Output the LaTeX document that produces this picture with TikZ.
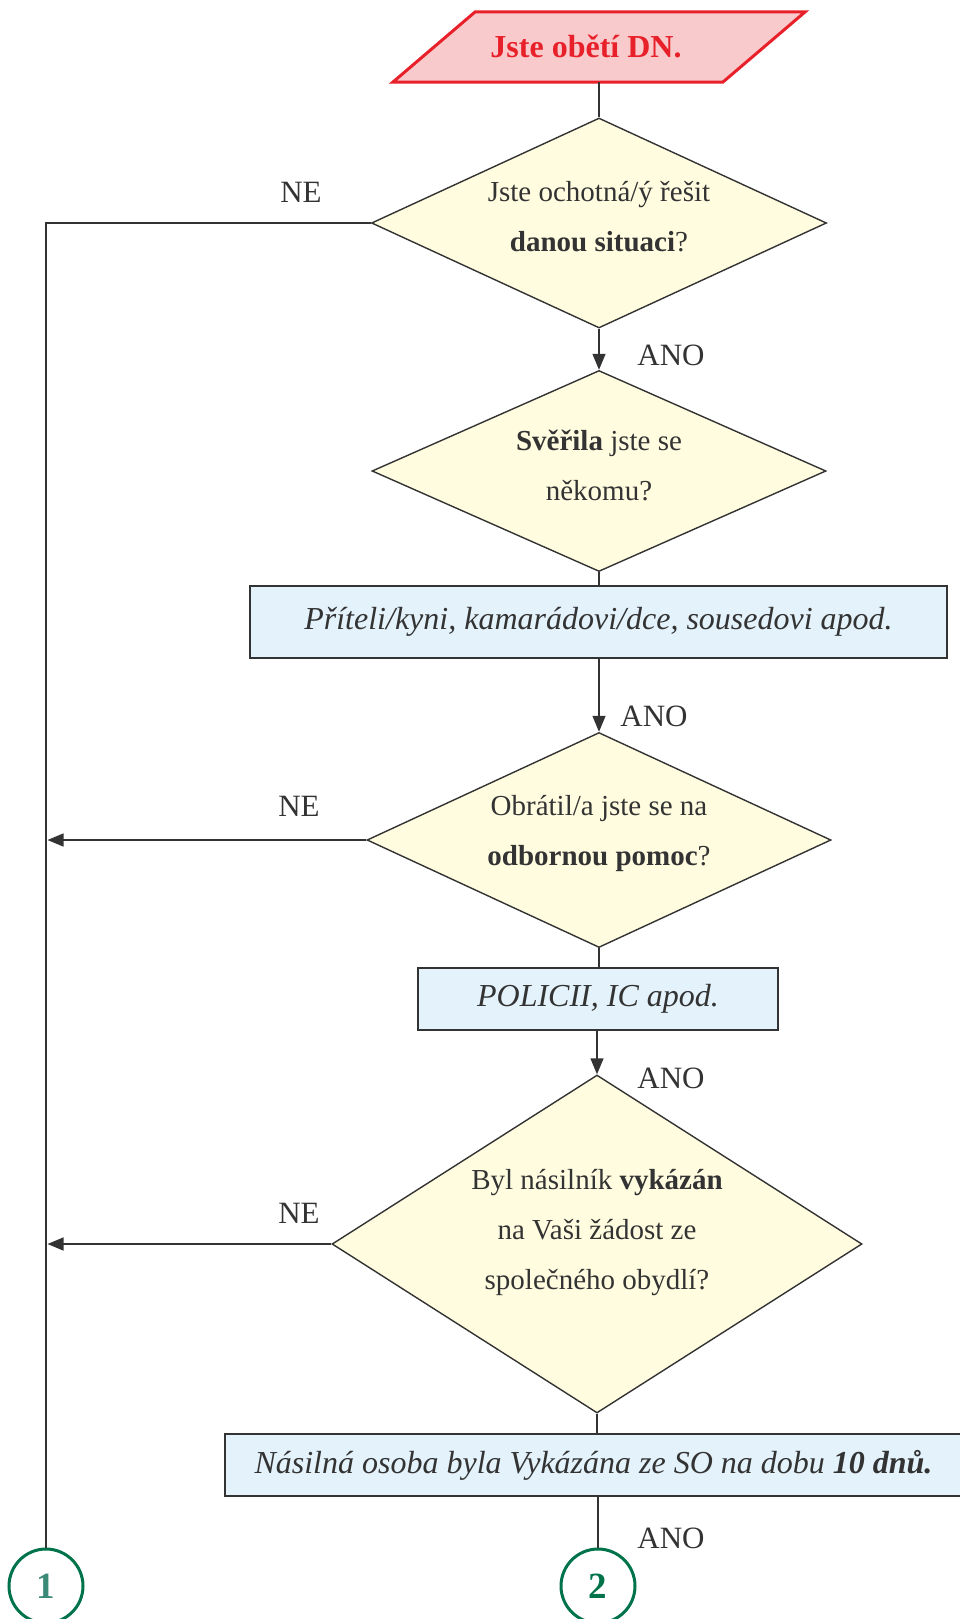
\documentclass[tikz,border=0pt]{standalone}
\usepackage{fontspec}
\setmainfont{Liberation Serif}
\usetikzlibrary{shapes.geometric,arrows.meta}
\definecolor{ink}{HTML}{333333}
\definecolor{dfill}{HTML}{FFFCE0}
\definecolor{bfill}{HTML}{E3F2FB}
\definecolor{pfill}{HTML}{F8CACC}
\definecolor{pred}{HTML}{E8202A}
\definecolor{cgreen}{HTML}{00734A}
\definecolor{cteal}{HTML}{3A8A78}
\begin{document}
\begin{tikzpicture}[x=1pt,y=-1pt,
  every node/.style={text=ink, font=\fontsize{29}{50}\selectfont},
  decision/.style={shape=diamond, draw=ink, line width=1.4pt, fill=dfill, inner sep=0pt},
  dtext/.style={inner sep=0pt, align=center},
  infobox/.style={shape=rectangle, draw=ink, line width=1.9pt, fill=bfill, inner sep=0pt, font=\fontsize{32}{34}\selectfont\itshape},
  conn/.style={draw=ink, line width=1.4pt},
  arr/.style={conn, -{Triangle[length=16pt,width=13pt]}},
  lbl/.style={inner sep=0pt, font=\fontsize{31}{31}\selectfont},
  connector/.style={circle, draw=cgreen, line width=3pt, minimum size=74pt, inner sep=0pt, font=\fontsize{37}{37}\selectfont\bfseries}
]
\useasboundingbox (0,0) rectangle (959,1619);

% start parallelogram
\draw[pred, line width=3pt, fill=pfill] (393,82) -- (475,12) -- (805,12) -- (723,82) -- cycle;
\node[text=pred, font=\fontsize{32}{32}\selectfont\bfseries] (start) at (586,46) {Jste obětí DN.};
\coordinate (startbot) at (599,82);

% decisions and boxes
\node[decision, minimum width=455pt, minimum height=210pt] (d1) at (599,223) {};
\node[dtext] (t1) at (599,216.5) {Jste ochotná/ý řešit\\\textbf{danou situaci}?};
\node[decision, minimum width=454pt, minimum height=201pt] (d2) at (599,471) {};
\node[dtext] (t2) at (599,465) {\textbf{Svěřila} jste se\\někomu?};
\node[infobox, minimum width=697pt, minimum height=72pt] (b1) at (598.5,622) {Příteli/kyni, kamarádovi/dce, sousedovi apod.};
\node[decision, minimum width=464pt, minimum height=215pt] (d3) at (599,840) {};
\node[dtext] (t3) at (599,833) {Obrátil/a jste se na\\\textbf{odbornou pomoc}?};
\node[infobox, minimum width=360pt, minimum height=62pt] (b2) at (598,999) {POLICII, IC apod.};
\node[decision, minimum width=530pt, minimum height=338pt] (d4) at (597,1244) {};
\node[dtext] (t4) at (597,1233) {Byl násilník \textbf{vykázán}\\na Vaši žádost ze\\společného obydlí?};
\node[infobox, minimum width=737pt, minimum height=62pt] (b3) at (593.5,1465) {Násilná osoba byla Vykázána ze SO na dobu \textbf{10 dnů.}};

% end connectors
\node[connector, text=cteal] (c1) at (46,1586) {1};
\node[connector, text=cgreen] (c2) at (598,1586) {2};

% labels
\node[lbl] (ne1) at (301,192) {NE};
\node[lbl] (ne3) at (299,806) {NE};
\node[lbl] (ne4) at (299,1213) {NE};
\node[lbl] (ano1) at (671,355) {ANO};
\node[lbl] (ano2) at (654,716) {ANO};
\node[lbl] (ano3) at (671,1078) {ANO};
\node[lbl] (ano4) at (671,1538) {ANO};

% main flow
\draw[conn] (startbot) -- (d1.north);
\draw[arr] (d1.south) -- (d2.north);
\draw[conn] (d2.south) -- (d2.south |- b1.north);
\draw[arr] (b1.south -| d3.north) -- (d3.north);
\draw[conn] (d3.south) -- (d3.south |- b2.north);
\draw[arr] (b2.south -| d4.north) -- (d4.north);
\draw[conn] (d4.south) -- (d4.south |- b3.north);
\draw[conn] (b3.south -| c2.north) -- (c2.north);

% NE branch
\coordinate (lt) at (46,223);
\coordinate (l3) at (47.5,840);
\coordinate (l4) at (47.5,1244);
\draw[conn] (d1.west) -- (lt) -- (c1.north);
\draw[arr] (d3.west) -- (l3);
\draw[arr] (d4.west) -- (l4);
\end{tikzpicture}
\end{document}
